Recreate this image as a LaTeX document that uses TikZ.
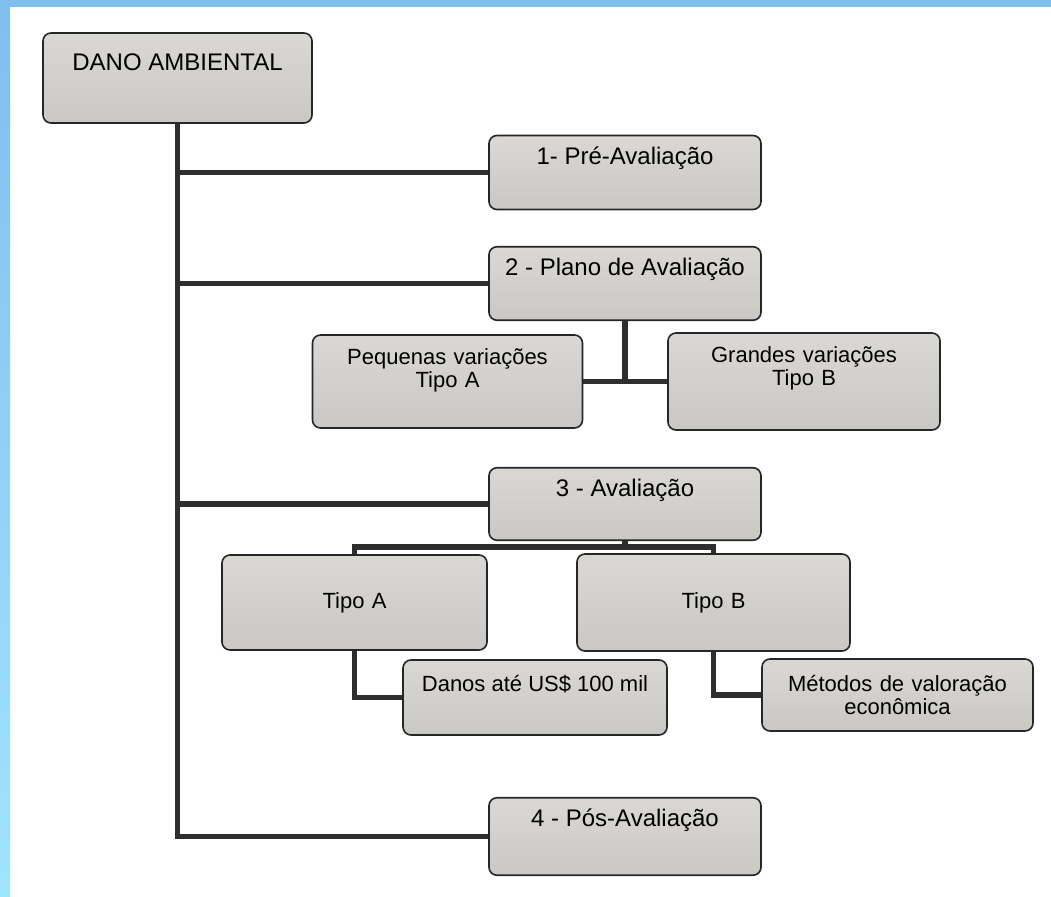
\documentclass[tikz,border=0pt]{standalone}
\usepackage{fontspec}
\setmainfont{Liberation Sans}
\usepackage{tikz}
\usetikzlibrary{positioning}
\definecolor{fundoazul}{HTML}{80BEEE}
\definecolor{fundoazulc}{HTML}{9FE4FF}
\definecolor{cinzaclaro}{HTML}{DAD8D5}
\definecolor{cinzaescuro}{HTML}{CAC8C5}
\tikzstyle{linha} = [draw, line width=5.5pt, black!82]
\tikzstyle{caixa} = [rectangle, draw=black!85, line width=1.6pt, rounded corners=8pt, top color=cinzaclaro, bottom color=cinzaescuro, inner sep=0pt, text centered, font=\fontsize{24}{23}\selectfont]
\tikzstyle{etapa} = [caixa, minimum width=272pt, text height=29pt, text depth=45pt]
\tikzstyle{ramo} = [caixa, minimum width=270pt, minimum height=95pt, text width=262pt, align=center, font=\fontsize{22}{23}\selectfont]

\begin{document}
\begin{tikzpicture}[x=1pt, y=-1pt]
	\useasboundingbox (0,0) rectangle (1051,896);
	\fill[white] (0,0) rectangle (1051,896);
	\shade[top color=fundoazul, bottom color=fundoazulc] (0,0) rectangle (10,896);
	\fill[fundoazul] (0,0) rectangle (1051,7);

	\node [caixa, minimum width=269pt, text height=37.5pt, text depth=52.5pt] (dano) at (177.5,78) {DANO AMBIENTAL};

	\node [etapa] (p1) at (625,172.5) {1- Pré-Avaliação};
	\node [etapa, below of=p1, node distance=111pt, text depth=44.5pt] (p2) {2 - Plano de Avaliação};
	\node [ramo, minimum height=93pt, text height=29.5pt, text depth=63.5pt] (peq) at (447.5,381.5) {Pequenas variações\\Tipo A};
	\node [ramo, right of=peq, node distance=356.5pt, minimum width=272pt, text height=29.5pt, text depth=67.5pt] (gra) {Grandes variações\\Tipo B};

	\node [etapa, below of=p2, node distance=220.5pt, text depth=43.5pt] (p3) {3 - Avaliação};
	\node [ramo, minimum width=265pt] (tipoa) at (354.5,602.5) {Tipo A};
	\node [ramo, right of=tipoa, node distance=359pt, minimum width=273pt, minimum height=97pt] (tipob) {Tipo B};
	\node [etapa, minimum width=264pt, text height=31.5pt, text depth=43.5pt, font=\fontsize{22}{23}\selectfont] (danos) at (535,697.5) {Danos até US\$ 100 mil};
	\node [ramo, minimum width=271pt, minimum height=72pt] (metodos) at (897.5,695) {Métodos de valoração\\econômica};

	\node [etapa, below of=p3, node distance=332.5pt, text depth=48.5pt] (p4) {4 - Pós-Avaliação};

	% tronco principal
	\draw [linha] (dano.south) |- (p4.west);
	\draw [linha] (dano.south |- p1.west) -- (p1.west);
	\draw [linha] (dano.south |- p2.west) -- (p2.west);
	\draw [linha] (dano.south |- p3.west) -- (p3.west);

	% ramos
	\draw [linha] (peq.east) -- (gra.west);
	\draw [linha] (p2.south) -- (p2.south |- peq.east);
	\draw [linha] (p3.south) -- ++(0,6) coordinate (j3);
	\draw [linha] (tipoa.north) |- (j3) -| (tipob.north);
	\draw [linha] (tipoa.south) |- (danos.west);
	\draw [linha] (tipob.south) |- (metodos.west);
\end{tikzpicture}
\end{document}
